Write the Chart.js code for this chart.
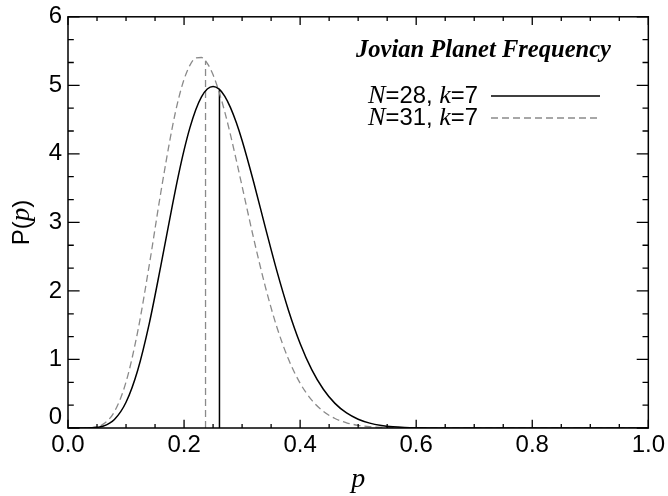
<!DOCTYPE html>
<html><head><meta charset="utf-8">
<script src="https://cdn.jsdelivr.net/npm/chart.js@4/dist/chart.umd.min.js"></script>
<style>html,body{margin:0;padding:0;background:#fff}canvas{display:block}</style>
</head><body>
<canvas id="c" width="668" height="496"></canvas>
<script>
// ---- data ----
const pGrid = [0, 0.02, 0.04, 0.06, 0.08, 0.10, 0.12, 0.14, 0.16, 0.18, 0.19, 0.20, 0.21, 0.22, 0.23,
  0.24, 0.25, 0.26, 0.27, 0.28, 0.29, 0.30, 0.32, 0.34, 0.36, 0.38, 0.40, 0.42, 0.44, 0.46,
  0.48, 0.50, 0.52, 0.54, 0.56, 0.58, 0.60, 0.65, 0.70, 0.80, 0.90, 1.00];
const densityN28 = [0, 0.0000, 0.0024, 0.026, 0.125, 0.376, 0.840, 1.524, 2.369, 3.255, 3.675, 4.054, 4.379, 4.641, 4.832,
  4.946, 4.984, 4.948, 4.843, 4.675, 4.456, 4.194, 3.585, 2.928, 2.289, 1.716, 1.234, 0.852, 0.565, 0.359,
  0.219, 0.128, 0.071, 0.038, 0.019, 0.009, 0.004, 0.001, 0, 0, 0, 0];
const densityN31 = [0, 0.0001, 0.0052, 0.053, 0.239, 0.671, 1.402, 2.376, 3.440, 4.398, 4.786, 5.087, 5.292, 5.398, 5.406,
  5.322, 5.153, 4.914, 4.617, 4.277, 3.909, 3.526, 2.763, 2.063, 1.470, 1.002, 0.653, 0.407, 0.243, 0.139,
  0.076, 0.039, 0.019, 0.009, 0.004, 0.002, 0.001, 0, 0, 0, 0, 0];
const medianP = [0.261, 0.237];
const medianTop = [4.94, 5.36];
const seriesLabels = ['N=28, k=7', 'N=31, k=7'];
const chartTitle = 'Jovian Planet Frequency';
const xTickValues = [0, 0.2, 0.4, 0.6, 0.8, 1.0];
const xTickLabels = ['0.0', '0.2', '0.4', '0.6', '0.8', '1.0'];
const yTickValues = [0, 1, 2, 3, 4, 5, 6];
const yTickLabels = ['0', '1', '2', '3', '4', '5', '6'];

// ---- styling ----
const SANS = '"Liberation Sans", Arial, Helvetica, sans-serif';
const SERIF = '"Liberation Serif", "Times New Roman", serif';
const GRAY = '#8a8a8a';
const DASH = [7, 4];

function pts(xs, ys) { return xs.map((x, i) => ({ x: x, y: ys[i] })); }

function labelRuns(text, size) {
  return text.split(/([A-Za-z]+)/).filter(s => s.length).map(s =>
    /^[A-Za-z]+$/.test(s) ? { t: s, f: 'italic ' + (size * 1.1).toFixed(2) + 'px ' + SERIF } : { t: s, f: size.toFixed(2) + 'px ' + SANS });
}
function runsWidth(ctx, runs) { let w = 0; for (const r of runs) { ctx.font = r.f; w += ctx.measureText(r.t).width; } return w; }
function drawRuns(ctx, runs, x, y) { for (const r of runs) { ctx.font = r.f; ctx.fillText(r.t, x, y); x += ctx.measureText(r.t).width; } return x; }

const decor = {
  id: 'decor',
  afterDraw(chart) {
    const { ctx, chartArea: a, scales: { x, y } } = chart;
    const w = a.right - a.left, h = a.bottom - a.top;
    ctx.save();
    ctx.strokeStyle = '#000';
    ctx.lineWidth = 1.5;
    ctx.strokeRect(a.left, a.top, w, h);
    // inward ticks on all four sides
    ctx.lineWidth = 1.3;
    ctx.beginPath();
    const xMaj = 0.02 * h, yMaj = 0.02 * w;
    for (let i = 0; i <= 20; i++) {
      const px = x.getPixelForValue(i * 0.05);
      const len = (i % 4 === 0) ? xMaj : xMaj / 2;
      ctx.moveTo(px, a.bottom); ctx.lineTo(px, a.bottom - len);
      ctx.moveTo(px, a.top); ctx.lineTo(px, a.top + len);
    }
    for (let i = 0; i <= 18; i++) {
      const py = y.getPixelForValue(i / 3);
      const len = (i % 3 === 0) ? yMaj : yMaj / 2;
      ctx.moveTo(a.left, py); ctx.lineTo(a.left + len, py);
      ctx.moveTo(a.right, py); ctx.lineTo(a.right - len, py);
    }
    ctx.stroke();

    ctx.fillStyle = '#000';
    ctx.textBaseline = 'alphabetic';
    // x axis title
    ctx.font = 'italic 28px ' + SERIF;
    ctx.textAlign = 'center';
    ctx.fillText('p', (a.left + a.right) / 2, 487);
    ctx.textAlign = 'left';
    // y axis title (rotated)
    const yRuns = [{ t: 'P(', f: '24px ' + SANS }, { t: 'p', f: 'italic 27px ' + SERIF }, { t: ')', f: '24px ' + SANS }];
    ctx.save();
    ctx.translate(29, (a.top + a.bottom) / 2);
    ctx.rotate(-Math.PI / 2);
    drawRuns(ctx, yRuns, -runsWidth(ctx, yRuns) / 2, 0);
    ctx.restore();

    // legend title
    let ts = 22;
    ctx.font = 'bold italic ' + ts + 'px ' + SERIF;
    ts = ts * 255 / ctx.measureText(chartTitle).width;
    ctx.font = 'bold italic ' + ts.toFixed(2) + 'px ' + SERIF;
    ctx.fillText(chartTitle, 356, 57);

    // legend entries
    const rows = [
      { yc: 96, color: '#000', dash: [], lw: 1.5 },
      { yc: 118, color: GRAY, dash: DASH, lw: 1.3 }
    ];
    let ls = 20;
    ls = ls * 110 / runsWidth(ctx, labelRuns(seriesLabels[0], ls));
    rows.forEach((r, i) => {
      ctx.fillStyle = '#000';
      drawRuns(ctx, labelRuns(seriesLabels[i], ls), 368, r.yc + 7);
      ctx.strokeStyle = r.color; ctx.lineWidth = r.lw; ctx.setLineDash(r.dash);
      ctx.beginPath(); ctx.moveTo(491, r.yc); ctx.lineTo(600, r.yc); ctx.stroke();
    });
    ctx.restore();
  }
};

new Chart(document.getElementById('c'), {
  type: 'line',
  data: {
    datasets: [
      { label: seriesLabels[0], data: pts(pGrid, densityN28), borderColor: '#000', borderWidth: 1.5, pointRadius: 0, cubicInterpolationMode: 'monotone', fill: false },
      { label: seriesLabels[1], data: pts(pGrid, densityN31), borderColor: GRAY, borderWidth: 1.3, borderDash: DASH, pointRadius: 0, cubicInterpolationMode: 'monotone', fill: false },
      { label: 'median 1', data: [{ x: medianP[0], y: 0 }, { x: medianP[0], y: medianTop[0] }], borderColor: '#000', borderWidth: 1.5, pointRadius: 0, tension: 0 },
      { label: 'median 2', data: [{ x: medianP[1], y: 0 }, { x: medianP[1], y: medianTop[1] }], borderColor: GRAY, borderWidth: 1.3, borderDash: DASH, pointRadius: 0, tension: 0 }
    ]
  },
  options: {
    responsive: false,
    animation: false,
    devicePixelRatio: 1,
    layout: { padding: { left: 0, right: 19, top: 11, bottom: 0 } },
    plugins: { legend: { display: false }, tooltip: { enabled: false }, title: { display: false } },
    scales: {
      x: {
        type: 'linear', min: 0, max: 1,
        afterBuildTicks: s => { s.ticks = xTickValues.map(v => ({ value: v })); },
        afterFit: s => { s.height = 68; },
        grid: { display: false, drawTicks: false },
        border: { display: false },
        ticks: { padding: 3, color: '#000', font: { family: SANS, size: 24 }, maxRotation: 0, autoSkip: false,
          callback: (v, i) => xTickLabels[i] }
      },
      y: {
        type: 'linear', min: 0, max: 6,
        afterBuildTicks: s => { s.ticks = yTickValues.map(v => ({ value: v })); },
        afterFit: s => { s.width = 68; },
        grid: { display: false, drawTicks: false },
        border: { display: false },
        ticks: { padding: 6, color: '#000', font: { family: SANS, size: 24, lineHeight: 0.9 }, autoSkip: false,
          callback: (v, i) => i === 0 ? [yTickLabels[i], ''] : yTickLabels[i] }
      }
    }
  },
  plugins: [decor]
});
</script>
</body></html>
